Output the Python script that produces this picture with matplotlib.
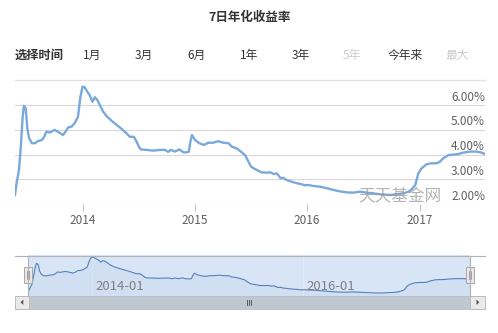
import matplotlib
matplotlib.use("Agg")
import matplotlib.pyplot as plt
import matplotlib.dates as mdates
import matplotlib.transforms as mtransforms
from matplotlib.patches import Rectangle, Polygon
import numpy as np
import pandas as pd

plt.rcParams['font.family'] = ['Noto Sans CJK SC', 'DejaVu Sans']

# ---------------- data ----------------
dates = ["2013-05-25", "2013-05-30", "2013-06-07", "2013-06-13", "2013-06-19", "2013-06-23",
         "2013-06-29", "2013-07-04", "2013-07-10", "2013-07-19", "2013-07-29", "2013-08-08",
         "2013-08-21", "2013-08-28", "2013-09-04", "2013-09-15", "2013-10-01", "2013-10-15",
         "2013-10-28", "2013-11-06", "2013-11-14", "2013-11-25", "2013-12-05", "2013-12-16",
         "2013-12-24", "2013-12-31", "2014-01-07", "2014-01-15", "2014-01-23", "2014-02-01",
         "2014-02-09", "2014-02-17", "2014-02-25", "2014-03-08", "2014-03-19", "2014-04-04",
         "2014-04-21", "2014-05-07", "2014-05-23", "2014-06-03", "2014-06-16", "2014-06-25",
         "2014-07-03", "2014-07-08", "2014-07-27", "2014-08-18", "2014-09-09", "2014-09-25",
         "2014-10-06", "2014-10-14", "2014-10-28", "2014-11-11", "2014-11-24", "2014-12-05",
         "2014-12-12", "2014-12-16", "2014-12-22", "2015-01-01", "2015-01-15", "2015-01-30",
         "2015-02-13", "2015-03-01", "2015-03-18", "2015-04-03", "2015-04-20", "2015-05-01",
         "2015-05-17", "2015-05-30", "2015-06-13", "2015-06-24", "2015-07-02", "2015-07-10",
         "2015-07-21", "2015-08-06", "2015-08-22", "2015-09-04", "2015-09-15", "2015-09-24",
         "2015-10-07", "2015-10-15", "2015-10-26", "2015-11-12", "2015-11-28", "2015-12-14",
         "2015-12-25", "2016-01-05", "2016-01-21", "2016-02-12", "2016-03-05", "2016-03-26",
         "2016-04-17", "2016-05-09", "2016-05-31", "2016-06-22", "2016-07-13", "2016-08-04",
         "2016-08-26", "2016-09-27", "2016-10-19", "2016-11-10", "2016-11-26", "2016-12-07",
         "2016-12-18", "2016-12-28", "2017-01-08", "2017-01-24", "2017-02-09", "2017-02-26",
         "2017-03-08", "2017-03-19", "2017-04-05", "2017-04-21", "2017-05-07", "2017-05-23",
         "2017-06-14", "2017-07-06", "2017-07-22", "2017-08-02"]
yields = [2.36, 2.84, 3.38, 4.32, 5.53, 5.97,
          5.87, 5.06, 4.66, 4.46, 4.46, 4.55,
          4.59, 4.72, 4.93, 4.89, 5.00, 4.90,
          4.79, 4.93, 5.10, 5.13, 5.27, 5.53,
          6.34, 6.75, 6.72, 6.55, 6.41, 6.14,
          6.32, 6.21, 6.01, 5.74, 5.56, 5.37,
          5.20, 5.04, 4.86, 4.72, 4.72, 4.52,
          4.30, 4.21, 4.19, 4.16, 4.19, 4.19,
          4.11, 4.19, 4.12, 4.21, 4.09, 4.09,
          4.12, 4.46, 4.79, 4.59, 4.46, 4.39,
          4.48, 4.48, 4.54, 4.48, 4.46, 4.32,
          4.25, 4.12, 3.98, 3.71, 3.52, 3.45,
          3.38, 3.28, 3.27, 3.28, 3.21, 3.24,
          3.04, 3.06, 2.97, 2.90, 2.84, 2.80,
          2.76, 2.77, 2.73, 2.70, 2.64, 2.57,
          2.51, 2.47, 2.46, 2.50, 2.46, 2.43,
          2.39, 2.36, 2.40, 2.43, 2.50, 2.60,
          2.77, 3.24, 3.45, 3.61, 3.65, 3.65,
          3.71, 3.85, 3.98, 4.00, 4.02, 4.08,
          4.12, 4.12, 4.08, 4.02]
y_ticks = [2, 3, 4, 5, 6]
y_tick_labels = ["2.00%", "3.00%", "4.00%", "5.00%", "6.00%"]
x_ticks = ["2014-01-01", "2015-01-01", "2016-01-01", "2017-01-01"]
x_tick_labels = ["2014", "2015", "2016", "2017"]
nav_ticks = ["2014-01-01", "2016-01-01"]
nav_tick_labels = ["2014-01", "2016-01"]
title = "7日年化收益率"
range_label = "选择时间"
range_buttons = ["1月", "3月", "6月", "1年", "3年", "5年", "今年来", "最大"]
range_enabled = [True, True, True, True, True, False, True, False]
watermark = "天天基金网"

# ---------------- layout ----------------
W, H = 498, 333
fig = plt.figure(figsize=(W / 100, H / 100), dpi=100)
fig.patch.set_facecolor("white")


def rect(x0, y0, x1, y1):
    return [x0 / W, 1 - y1 / H, (x1 - x0) / W, (y1 - y0) / H]


x = pd.to_datetime(dates)
y = np.array(yields)

LINE = "#79a9dc"
TXT = "#606060"

# main chart
ax = fig.add_axes(rect(15, 85.4, 485, 204))
ax.plot(x, y, color=LINE, lw=1.7, solid_joinstyle="round", zorder=3)
ax.set_xlim(x[0], x[-1])
ax.set_ylim(2.0, 6.8)
for s in ax.spines.values():
    s.set_visible(False)
ax.set_yticks(y_ticks)
ax.yaxis.grid(True, color="#d8d8d8", lw=0.8)
ax.tick_params(axis="y", left=False, labelleft=False)
ax.set_axisbelow(True)
off = mtransforms.offset_copy(ax.get_yaxis_transform(), fig=fig, x=0, y=1.5, units="dots")
for v, lab in zip(y_ticks, y_tick_labels):
    ax.text(1.0, v, lab, transform=off, ha="right", va="bottom", fontsize=8.5, color=TXT,
            zorder=4)
ax.set_xticks(pd.to_datetime(x_ticks))
ax.set_xticklabels(x_tick_labels)
ax.tick_params(axis="x", length=5, width=0.8, color="#c0c8d8", labelsize=8.5,
               labelcolor=TXT, pad=2)
ax.patch.set_alpha(0)

# navigator
nav = fig.add_axes(rect(28, 255, 470, 296))
nav.set_facecolor("#d7e5f6")
nav.plot(x, y, color="#5581b9", lw=0.8)
nav.fill_between(x, 2.0, y, color="#5581b9", alpha=0.05, lw=0)
nav.set_xlim(x[0], x[-1])
nav.set_ylim(2.0, 7.0)
for s in nav.spines.values():
    s.set_visible(False)
nav.set_xticks(pd.to_datetime(nav_ticks))
nav.xaxis.grid(True, color="#e4ecf7", lw=0.8)
nav.tick_params(axis="both", length=0, labelbottom=False, labelleft=False)
nav.set_axisbelow(True)
noff = mtransforms.offset_copy(nav.get_xaxis_transform(), fig=fig, x=4, y=0, units="dots")
for d, lab in zip(pd.to_datetime(nav_ticks), nav_tick_labels):
    nav.text(d, 0.22, lab, transform=noff, ha="left", va="center", fontsize=9.5,
             color="#808080")

# overlay (decorations in pixel coordinates)
ov = fig.add_axes([0, 0, 1, 1], zorder=10)
ov.set_xlim(0, W)
ov.set_ylim(H, 0)
ov.axis("off")
ov.patch.set_alpha(0)

ov.text(250, 17, title, ha="center", va="center", fontsize=9, fontweight="bold", color="#333333")
ov.text(15, 55, range_label, ha="left", va="center", fontsize=8.8, fontweight="bold",
        color="#333333")
btn_x = [92, 144, 196, 249, 301, 352, 405, 457]
for bx, lab, en in zip(btn_x, range_buttons, range_enabled):
    ov.text(bx, 55, lab, ha="center", va="center", fontsize=8.5,
            color="#333333" if en else "#cccccc")
ov.plot([15, 485], [79.5, 79.5], color="#e2e2e2", lw=0.9)

ov.text(400, 196, watermark, ha="center", va="center", fontsize=12, color="#9a9a9a", alpha=0.75)

# navigator outline
ov.plot([15, 28, 28], [255.5, 255.5, 296], color="#b2b1b6", lw=0.8)
ov.plot([28, 470], [255.5, 255.5], color="#b2b1b6", lw=0.8)
ov.plot([470, 470, 485], [296, 255.5, 255.5], color="#b2b1b6", lw=0.8)

# scrollbar
ov.add_patch(Rectangle((15, 295.5), 470, 13.5, fc="#eeeeee", ec="#dddddd", lw=0.6))
ov.add_patch(Rectangle((28, 295.5), 442, 13.5, fc="#bfc7d0", ec="#b8bec6", lw=0.6))
for bx0 in (15, 470):
    ov.add_patch(Rectangle((bx0, 295.5), 14 if bx0 == 15 else 15, 13.5, fc="#ebe9e9",
                           ec="#bbbbbb", lw=0.7))
ov.add_patch(Polygon([[23.3, 299.5], [23.3, 305], [20.5, 302.25]], closed=True,
                     fc="#555555", ec="none"))
ov.add_patch(Polygon([[476.5, 299.5], [476.5, 305], [479.3, 302.25]], closed=True,
                     fc="#555555", ec="none"))
for gx in (246.5, 248.5, 250.5):
    ov.plot([gx, gx], [299.5, 305], color="#444444", lw=0.6)

# handles
for hx in (24, 466):
    ov.add_patch(Rectangle((hx, 267), 8, 16, fc="#ebe7e8", ec="#a8a8a8", lw=0.7))
    for lx in (hx + 3, hx + 5):
        ov.plot([lx, lx], [271, 279], color="#888888", lw=0.5)

fig.savefig("out.png", dpi=100, facecolor="white")
